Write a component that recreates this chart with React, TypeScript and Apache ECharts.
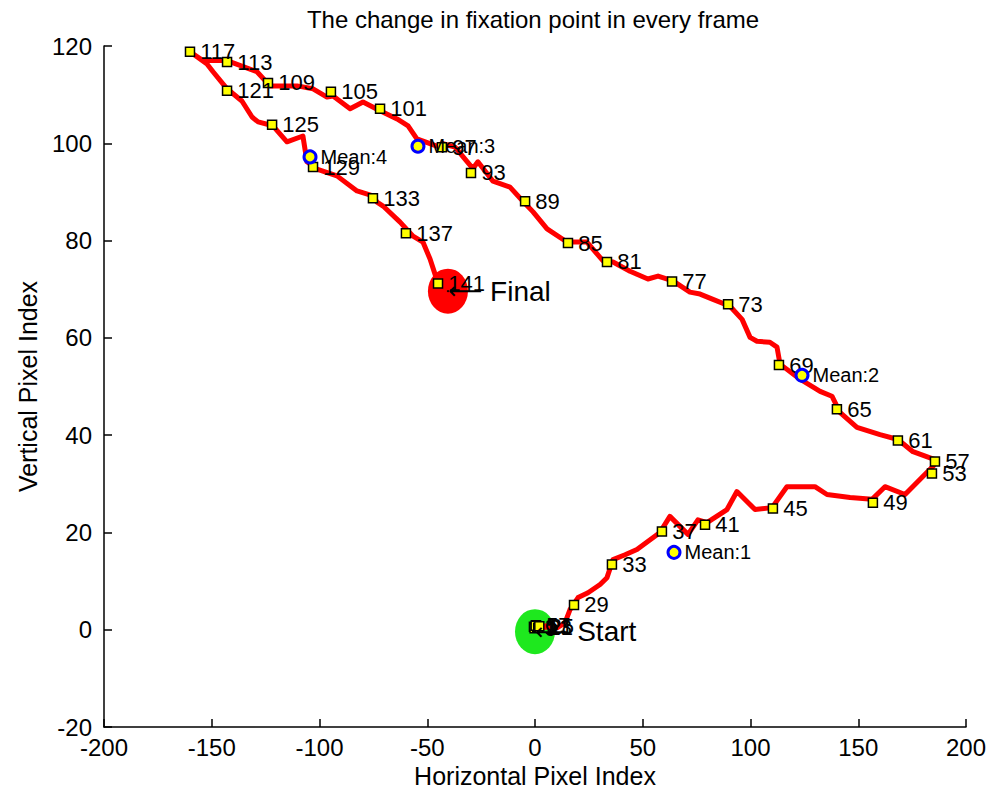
import { useEffect, useRef } from "react";
import * as echarts from "echarts";

// Fixation trace, one vertex per bend of the gaze path (pixel index units)
const trace: [number, number][] = [
  [-0.9, 0.6], [2.0, 0.2], [5.0, 0.8], [1.0, 0.3], [6.5, 0.6], [10.2, 0.4],
  [13.9, 1.4], [16.2, 4.1], [20.0, 6.6], [24.6, 7.6], [30.2, 9.3], [33.4, 10.7],
  [36.2, 14.4], [41.8, 15.4], [47.3, 16.5], [58.0, 20.0], [62.6, 23.3], [71.0, 19.6],
  [75.6, 22.6], [79.8, 22.0], [89.1, 24.7], [93.7, 28.4], [102.1, 24.7], [110.0, 25.1],
  [116.9, 29.4], [129.9, 29.4], [135.5, 27.8], [146.2, 27.2], [156.4, 26.8], [162.4, 29.4],
  [171.7, 27.8], [184.7, 33.6], [186.5, 34.8], [175.4, 36.6], [168.4, 39.1], [160.1, 40.1],
  [149.4, 41.6], [141.5, 44.7], [137.8, 48.0], [132.3, 49.0], [123.0, 51.5], [113.7, 54.6],
  [112.3, 58.1], [109.0, 59.1], [103.0, 59.3], [99.8, 60.1], [96.1, 63.8], [90.5, 66.5],
  [82.6, 67.9], [76.6, 69.0], [71.9, 69.4], [64.0, 71.7], [57.1, 72.7], [52.4, 72.1],
  [44.1, 73.7], [36.2, 75.6], [31.6, 75.8], [24.1, 79.7], [14.8, 79.7], [5.6, 82.4],
  [-0.9, 85.9], [-5.6, 88.1], [-11.6, 91.0], [-19.5, 92.2], [-26.5, 96.2], [-28.8, 94.8],
  [-37.1, 99.2], [-42.7, 99.9], [-45.5, 99.4], [-54.8, 100.9], [-58.9, 103.6], [-64.0, 105.0],
  [-71.9, 106.7], [-79.8, 108.5], [-85.8, 107.1], [-93.7, 109.7], [-96.5, 109.5], [-103.0, 111.2],
  [-110.4, 111.8], [-123.0, 111.8], [-129.0, 114.7], [-142.9, 117.0], [-154.1, 117.0], [-160.1, 118.8],
  [-152.2, 116.3], [-149.4, 114.7], [-142.9, 111.2], [-136.0, 108.7], [-131.3, 105.4], [-128.5, 104.4],
  [-121.6, 103.6], [-115.1, 100.3], [-107.7, 101.5], [-105.8, 96.2], [-101.2, 94.7], [-91.9, 93.3],
  [-82.6, 90.2], [-75.2, 89.2], [-73.3, 87.9], [-70.5, 87.1], [-62.6, 83.8], [-56.6, 80.9],
  [-52.0, 79.7], [-48.7, 76.2], [-46.4, 73.1], [-45.0, 71.2],
];

// Every fourth frame is marked and numbered
const frameIds = [
  1, 5, 9, 13, 17, 21, 25, 29, 33, 37, 41, 45, 49, 53, 57, 61, 65, 69,
  73, 77, 81, 85, 89, 93, 97, 101, 105, 109, 113, 117, 121, 125, 129, 133, 137, 141,
];
const frameX = [
  -0.5, 0.5, -0.2, 1.0, 0.3, 1.5, 2.0, 18.1, 35.7, 58.9, 78.9, 110.4, 156.8, 184.2, 185.6, 168.4, 140.1, 113.2,
  89.6, 63.6, 33.4, 15.3, -4.6, -29.7, -43.2, -71.9, -94.7, -123.9, -142.9, -160.1, -142.9, -122.0, -103.0, -75.2, -59.9, -45.0,
];
const frameY = [
  0.6, 0.9, 0.3, 0.5, 0.8, 0.4, 0.7, 5.1, 13.4, 20.2, 21.6, 24.9, 26.1, 32.1, 34.6, 38.9, 45.3, 54.4,
  66.9, 71.6, 75.6, 79.5, 88.1, 93.9, 99.2, 107.1, 110.6, 112.4, 116.7, 118.8, 110.8, 103.8, 95.1, 88.7, 81.5, 71.2,
];

// Cluster means
const meanNames = ["Mean:1", "Mean:2", "Mean:3", "Mean:4"];
const meanX = [64.5, 123.9, -54.3, -104.4];
const meanY = [15.9, 52.3, 99.4, 97.2];

// Start and end of the trace
const endNames = ["Start", "Final"];
const endX = [0.0, -40.4];
const endY = [-0.4, 69.6];
const endColors = ["#1ee81e", "#ff0000"];

const xMin = -200;
const xMax = 200;
const xStep = 50;
const yMin = -20;
const yMax = 120;
const yStep = 20;

const FONT = "'Liberation Sans', Arial, Helvetica, sans-serif";
const ELLIPSE = "path://M50,0A50,50,0,1,1,50,100A50,50,0,1,1,50,0Z";

export default function App() {
  const ref = useRef<HTMLDivElement>(null);

  useEffect(() => {
    document.body.style.margin = "0";
    if (!ref.current) return;
    const chart = echarts.init(ref.current, undefined, { renderer: "svg" });

    const axisCommon = {
      type: "value" as const,
      nameLocation: "middle" as const,
      nameTextStyle: { fontFamily: FONT, fontSize: 25, color: "#000" },
      axisLine: { show: true, onZero: false, lineStyle: { color: "#000", width: 1.5 } },
      axisTick: { show: true, inside: true, length: 8, lineStyle: { color: "#000", width: 1.5 } },
      axisLabel: { fontFamily: FONT, fontSize: 24, color: "#000" },
      splitLine: { show: false },
    };

    chart.setOption({
      animation: false,
      backgroundColor: "#ffffff",
      textStyle: { fontFamily: FONT },
      grid: { left: 104, right: 27, top: 46, bottom: 72, containLabel: false },
      graphic: [
        {
          type: "text",
          x: 533,
          y: 19,
          style: {
            text: "The change in fixation point in every frame",
            fontFamily: FONT,
            fontSize: 24,
            fill: "#000",
            align: "center",
            verticalAlign: "middle",
          },
        },
      ],
      xAxis: {
        ...axisCommon,
        min: xMin,
        max: xMax,
        interval: xStep,
        name: "Horizontal Pixel Index",
        nameGap: 36,
        axisLabel: { ...axisCommon.axisLabel, margin: 8 },
      },
      yAxis: {
        ...axisCommon,
        min: yMin,
        max: yMax,
        interval: yStep,
        name: "Vertical Pixel Index",
        nameGap: 64,
        axisLabel: { ...axisCommon.axisLabel, margin: 12 },
      },
      series: [
        {
          type: "scatter",
          silent: true,
          z: 1,
          symbol: ELLIPSE,
          symbolKeepAspect: false,
          symbolSize: [40, 45],
          data: endNames.map((n, i) => ({
            name: n,
            value: [endX[i], endY[i]],
            itemStyle: { color: endColors[i], opacity: 1 },
          })),
        },
        {
          type: "line",
          silent: true,
          z: 2,
          symbol: "none",
          data: trace,
          lineStyle: { color: "#ff0000", width: 5, join: "round", cap: "round", opacity: 1 },
        },
        {
          type: "scatter",
          silent: true,
          z: 3,
          symbol: "rect",
          symbolSize: 9,
          itemStyle: { color: "#ffff00", borderColor: "#000", borderWidth: 1.5, opacity: 1 },
          label: {
            show: true,
            formatter: "{b}",
            position: "right",
            distance: 5,
            fontFamily: FONT,
            fontSize: 22,
            color: "#000",
          },
          data: frameIds.map((id, i) => ({ name: String(id), value: [frameX[i], frameY[i]] })),
        },
        {
          type: "scatter",
          silent: true,
          z: 4,
          symbol: "circle",
          symbolSize: 12,
          itemStyle: { color: "#ffff00", borderColor: "#0000ff", borderWidth: 3, opacity: 1 },
          label: {
            show: true,
            formatter: "{b}",
            position: "right",
            distance: 3,
            fontFamily: FONT,
            fontSize: 20,
            color: "#000",
          },
          data: meanNames.map((n, i) => ({ name: n, value: [meanX[i], meanY[i]] })),
        },
        {
          type: "scatter",
          silent: true,
          z: 5,
          symbolSize: 2,
          itemStyle: { color: "#000", opacity: 1 },
          label: {
            show: true,
            formatter: (p: any) => "{a|\u27F5}{b| " + p.name + "}",
            position: "right",
            distance: -1,
            color: "#000",
            rich: {
              a: { fontFamily: "'DejaVu Sans', sans-serif", fontSize: 24, color: "#000" },
              b: { fontFamily: FONT, fontSize: 28, color: "#000" },
            },
          },
          data: endNames.map((n, i) => ({ name: n, value: [endX[i], endY[i]] })),
        },
      ],
    });

    return () => chart.dispose();
  }, []);

  return <div ref={ref} style={{ width: 993, height: 799 }} />;
}
